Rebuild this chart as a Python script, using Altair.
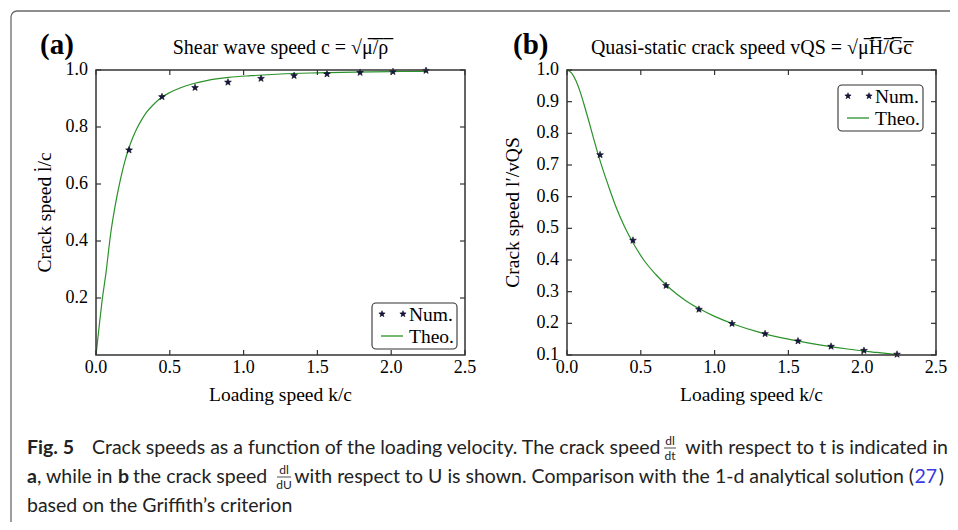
import math
import altair as alt
import pandas as pd

# ---------------- data ----------------
k_num = [0.224, 0.447, 0.671, 0.894, 1.118, 1.342, 1.565, 1.789, 2.012, 2.236]
num_a = [0.719, 0.906, 0.938, 0.957, 0.970, 0.980, 0.986, 0.991, 0.994, 0.998]
theo_a_k = [0.0, 0.02, 0.04, 0.068, 0.10, 0.13, 0.163, 0.19, 0.219, 0.25, 0.276, 0.31,
            0.343, 0.39, 0.434, 0.50, 0.569, 0.65, 0.75, 0.90, 1.05, 1.25, 1.50, 1.75, 2.0, 2.236]
theo_a_v = [0.0, 0.094, 0.185, 0.29, 0.428, 0.524, 0.61, 0.669, 0.72, 0.764, 0.794, 0.826,
            0.852, 0.879, 0.90, 0.921, 0.937, 0.951, 0.963, 0.974, 0.980, 0.986, 0.990, 0.9928, 0.9945, 0.9955]

num_b = [0.732, 0.462, 0.319, 0.244, 0.199, 0.167, 0.144, 0.127, 0.114, 0.102]
theo_b_k = [0.0, 0.03, 0.06, 0.09, 0.12, 0.15, 0.18, 0.21, 0.24, 0.28, 0.33, 0.39, 0.45,
            0.52, 0.60, 0.70, 0.80, 0.90, 1.00, 1.15, 1.30, 1.50, 1.70, 1.90, 2.10, 2.236]
theo_b_v = [1.0, 0.991, 0.967, 0.930, 0.884, 0.835, 0.784, 0.735, 0.690, 0.635, 0.570, 0.505, 0.452,
            0.400, 0.355, 0.309, 0.273, 0.245, 0.222, 0.194, 0.172, 0.150, 0.133, 0.119, 0.108, 0.101]

x_ticks = [0.0, 0.5, 1.0, 1.5, 2.0, 2.5]
y_ticks_a = [0.2, 0.4, 0.6, 0.8, 1.0]
y_ticks_b = [0.1, 0.2, 0.3, 0.4, 0.5, 0.6, 0.7, 0.8, 0.9, 1.0]
series = ["Num.", "Theo."]

# ---------------- layout / styles ----------------
TW, TH = 942, 514          # whole drawing (page minus 8px margin)
W, H = 369, 285            # each plot area
OY = 62                    # top of both plot areas
OXA, OXB = 88, 559         # left of plot (a) and plot (b)
SERIF = "Liberation Serif"
SANS = "Lato"
NAVY = "#14144d"
GREEN = "#2a922a"
FRAME = "#333333"
BORDER = "#6a6a6a"
INK = "#222222"


def star_path(R=1.0, r=0.42):
    pts = []
    for i in range(10):
        ang = -math.pi / 2 + i * math.pi / 5
        rad = R if i % 2 == 0 else r
        pts.append((rad * math.cos(ang), rad * math.sin(ang)))
    return "M" + "L".join(f"{x:.3f},{y:.3f}" for x, y in pts) + "Z"


STAR = star_path()
STAR_STYLE = dict(shape=STAR, filled=True, fill=NAVY, stroke="#000000", strokeWidth=0.5, opacity=1)


def one():
    return pd.DataFrame({"o": [0]})


def text_at(txt, x, y, font=SANS, size=19.5, weight="normal", color=INK, align="left", angle=0):
    return alt.Chart(one()).mark_text(
        font=font, fontSize=size, fontWeight=weight, color=color, align=align, baseline="middle", angle=angle
    ).encode(x=alt.value(x), y=alt.value(y), text=alt.value(txt))


def rule_at(x, y, x2=None, y2=None, color=FRAME, width=1.0):
    enc = {"x": alt.value(x), "y": alt.value(y)}
    if x2 is not None:
        enc["x2"] = alt.value(x2)
    if y2 is not None:
        enc["y2"] = alt.value(y2)
    return alt.Chart(one()).mark_rule(color=color, strokeWidth=width).encode(**enc)


def legend_layers(bx, by):
    """Legend box with its two entries (labels taken from `series`)."""
    r1, r2 = by + 11, by + 33
    return [
        alt.Chart(one()).mark_rect(fill="white", stroke=FRAME, strokeWidth=1.1, cornerRadius=4).encode(
            x=alt.value(bx), x2=alt.value(bx + 85), y=alt.value(by), y2=alt.value(by + 46)),
        alt.Chart(one()).mark_point(size=44, **STAR_STYLE).encode(x=alt.value(bx + 10), y=alt.value(r1)),
        alt.Chart(one()).mark_point(size=44, **STAR_STYLE).encode(x=alt.value(bx + 31), y=alt.value(r1)),
        rule_at(bx + 9, r2, x2=bx + 31, color=GREEN, width=1.3),
        text_at(series[0], bx + 37, r1 + 1, font=SERIF, size=19.5, color="black"),
        text_at(series[1], bx + 37, r2 + 1, font=SERIF, size=19.5, color="black"),
    ]


def panel(ox, num_vals, theo_k, theo_v, y_dom, y_ticks, ytitle, ytitle_x, lx, ly):
    num_df = pd.DataFrame({"k": k_num, "v": num_vals, "series": series[0]})
    theo_df = pd.DataFrame({"k": theo_k, "v": theo_v, "series": series[1]})
    xs = alt.Scale(domain=[0, 2.5], range=[ox, ox + W], nice=False, zero=False)
    ys = alt.Scale(domain=y_dom, range=[OY + H, OY], nice=False, zero=False)
    line = alt.Chart(theo_df).mark_line(strokeWidth=1.2, interpolate="monotone", color=GREEN).encode(
        x=alt.X("k:Q", scale=xs, axis=None), y=alt.Y("v:Q", scale=ys, axis=None)
    )
    pts = alt.Chart(num_df).mark_point(size=52, **STAR_STYLE).encode(
        x=alt.X("k:Q", axis=None), y=alt.Y("v:Q", axis=None))
    frame = alt.Chart(one()).mark_rect(fill="transparent", stroke=FRAME, strokeWidth=1.5).encode(
        x=alt.value(ox), x2=alt.value(ox + W), y=alt.value(OY), y2=alt.value(OY + H))

    tx = pd.DataFrame({"t": x_ticks})
    ty = pd.DataFrame({"t": y_ticks})
    rs = dict(color=FRAME, strokeWidth=1.2)
    bt = alt.Chart(tx).mark_rule(**rs).encode(x=alt.X("t:Q", axis=None), y=alt.value(OY + H), y2=alt.value(OY + H - 5))
    tt = alt.Chart(tx).mark_rule(**rs).encode(x=alt.X("t:Q", axis=None), y=alt.value(OY), y2=alt.value(OY + 5))
    lt = alt.Chart(ty).mark_rule(**rs).encode(y=alt.Y("t:Q", axis=None), x=alt.value(ox), x2=alt.value(ox + 5))
    rt = alt.Chart(ty).mark_rule(**rs).encode(y=alt.Y("t:Q", axis=None), x=alt.value(ox + W), x2=alt.value(ox + W - 5))
    # tick labels placed through the panel's own scales
    xl = alt.Chart(tx).mark_text(font=SERIF, fontSize=18, color="black", align="center", baseline="middle").encode(
        x=alt.X("t:Q", axis=None), y=alt.value(OY + H + 13), text=alt.Text("t:Q", format=".1f"))
    yl = alt.Chart(ty).mark_text(font=SERIF, fontSize=18, color="black", align="right", baseline="middle").encode(
        y=alt.Y("t:Q", axis=None), x=alt.value(ox - 8), text=alt.Text("t:Q", format=".1f"))
    xt = text_at("Loading speed k/c", ox + W / 2, OY + H + 40, font=SERIF, size=19.5, color="black", align="center")
    yt = text_at(ytitle, ytitle_x, OY + H / 2, font=SERIF, size=19.5, color="black", align="center", angle=270)
    return alt.layer(line, pts, frame, bt, tt, lt, rt, xl, yl, xt, yt, *legend_layers(lx, ly))


panel_a = panel(OXA, num_a, theo_a_k, theo_a_v, [0, 1.0], y_ticks_a, "Crack speed l\u0307/c", 37, 364, 295)
panel_b = panel(OXB, num_b, theo_b_k, theo_b_v, [0.1, 1.0], y_ticks_b, "Crack speed l\u2032/vQS", 505, 830, 77)

# ---------------- headings, figure frame and caption ----------------
heads = [
    text_at("(a)", 32, 37, font=SERIF, size=29, weight="bold", color="black"),
    text_at("Shear wave speed c = \u221a\u03bc\u0305/\u0305\u03c1\u0305", OXA + W / 2, 40,
            font=SERIF, size=20, color="black", align="center"),
    text_at("(b)", 505, 37, font=SERIF, size=29, weight="bold", color="black"),
    text_at("Quasi-static crack speed vQS = \u221a\u03bc\u0305H\u0305/\u0305G\u0305c\u0305", OXB + W / 2, 40,
            font=SERIF, size=20, color="black", align="center"),
]

border = [
    alt.Chart(one()).mark_rect(fill="transparent", stroke=BORDER, strokeWidth=1.3, cornerRadius=6).encode(
        x=alt.value(3), x2=alt.value(TW + 40), y=alt.value(3), y2=alt.value(TH + 40)),
]

L1, L2, L3 = 440, 469, 498
caption = [
    text_at("Fig. 5", 19, L1, weight="bold"),
    text_at("Crack speeds as a function of the loading velocity. The crack speed", 84, L1),
    text_at("dl", 662, L1 - 7, size=12, align="center"),
    text_at("dt", 662, L1 + 8, size=12, align="center"),
    rule_at(656, L1, x2=668, color=INK, width=0.8),
    text_at("with respect to t is indicated in", 940, L1, align="right"),
    text_at("a", 19, L2, weight="bold"),
    text_at(", while in", 29, L2),
    text_at("b", 110, L2, weight="bold"),
    text_at("the crack speed", 125, L2),
    text_at("dl", 276, L2 - 7, size=12, align="center"),
    text_at("dU", 276, L2 + 8, size=12, align="center"),
    rule_at(269, L2, x2=283, color=INK, width=0.8),
    text_at("with respect to U is shown. Comparison with the 1-d analytical solution (", 906, L2, align="right"),
    text_at("27", 929, L2, color="#3a3ae0", align="right"),
    text_at(")", 936, L2, align="right"),
    text_at("based on the Griffith\u2019s criterion", 19, L3),
]

chart = (
    alt.layer(panel_a, panel_b, *heads, *border, *caption)
    .resolve_scale(x="independent", y="independent")
    .properties(width=TW, height=TH, autosize=alt.AutoSizeParams(type="none"), padding=0)
    .configure_view(strokeWidth=0)
)

chart.save("out.html", embed_options={"renderer": "svg", "actions": False})
